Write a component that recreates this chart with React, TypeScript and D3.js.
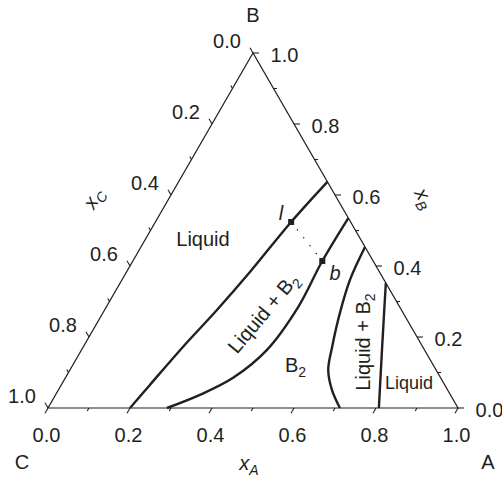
import React from "react";
import * as d3 from "d3";

// Ternary phase diagram A–B–C; compositions are given as [xA, xB] (xC = 1 - xA - xB).
type Comp = [number, number];

const liquidusLeft: Comp[] = [
  [0.2, 0], [0.216, 0.065], [0.243, 0.172], [0.274, 0.276], [0.301, 0.383], [0.331, 0.524], [0.363, 0.637],
];
const solidusLeft: Comp[] = [
  [0.29, 0], [0.352, 0.037], [0.409, 0.085], [0.452, 0.163], [0.468, 0.285], [0.462, 0.414], [0.465, 0.535],
];
const solidusRight: Comp[] = [
  [0.5465, 0.4535], [0.556, 0.361], [0.578, 0.268], [0.607, 0.172], [0.63, 0.107], [0.667, 0.051], [0.712, 0],
];
const liquidusRight: Comp[] = [
  [0.648, 0.352], [0.729, 0.172], [0.807, 0],
];
// Tie line between liquid (l) and B2 (b) compositions
const tieL: Comp = [0.331, 0.524];
const tieB: Comp = [0.462, 0.414];

const tickValues = d3.range(0, 11).map((i) => i / 10);
const labelValues = [0, 0.2, 0.4, 0.6, 0.8, 1.0];

const W = 502;
const H = 477;
const FONT = "'Liberation Sans', Arial, Helvetica, sans-serif";

const side = d3.scaleLinear().domain([0, 1]).range([0, 410]);
const yScale = d3.scaleLinear().domain([0, 1]).range([408, 53]);
const x0 = 48;

const px = (c: Comp): [number, number] => [x0 + side(c[0]) + side(c[1]) / 2, yScale(c[1])];

const curveLine = d3
  .line<Comp>()
  .x((d) => px(d)[0])
  .y((d) => px(d)[1])
  .curve(d3.curveCatmullRom.alpha(0.5));

const fmt = d3.format(".1f");

export default function App() {
  const C = px([0, 0]);
  const A = px([1, 0]);
  const B = px([0, 1]);
  const tri = `M${C[0]},${C[1]}L${A[0]},${A[1]}L${B[0]},${B[1]}Z`;

  const cos60 = 0.5;
  const sin60 = Math.sqrt(3) / 2;
  const tickLen = (v: number) => (Math.round(v * 10) % 2 === 0 ? 6 : 3.5);

  const ticks: JSX.Element[] = [];
  tickValues.forEach((v, i) => {
    const L = tickLen(v);
    // bottom axis: xA
    const pb = px([v, 0]);
    ticks.push(<line key={`b${i}`} x1={pb[0]} y1={pb[1]} x2={pb[0] - L * cos60} y2={pb[1] + L * sin60} />);
    // left axis: xC
    const pl = px([0, 1 - v]);
    ticks.push(<line key={`l${i}`} x1={pl[0]} y1={pl[1]} x2={pl[0] - L * cos60} y2={pl[1] - L * sin60} />);
    // right axis: xB
    const pr = px([1 - v, v]);
    ticks.push(<line key={`r${i}`} x1={pr[0]} y1={pr[1]} x2={pr[0] + L} y2={pr[1]} />);
  });

  const labels: JSX.Element[] = [];
  labelValues.forEach((v, i) => {
    const pb = px([v, 0]);
    labels.push(
      <text key={`bl${i}`} x={pb[0] - 1.5} y={pb[1] + 27} dy="0.35em" textAnchor="middle">{fmt(v)}</text>
    );
    const pl = px([0, 1 - v]);
    labels.push(
      <text key={`ll${i}`} x={pl[0] - 26} y={pl[1] - 12} dy="0.35em" textAnchor="middle">{fmt(v)}</text>
    );
    const pr = px([1 - v, v]);
    labels.push(
      <text key={`rl${i}`} x={pr[0] + 31.5} y={pr[1] + 1.5} dy="0.35em" textAnchor="middle">{fmt(v)}</text>
    );
  });

  const pL = px(tieL);
  const pB = px(tieB);

  return (
    <svg width={W} height={H} style={{ position: "absolute", left: 0, top: 0, background: "#fff" }}>
      <g fontFamily={FONT} fill="#231f20">
        <path d={tri} fill="none" stroke="#231f20" strokeWidth={1.2} />
        <g stroke="#231f20" strokeWidth={1.1}>{ticks}</g>

        <g fill="none" stroke="#231f20" strokeWidth={2.4} strokeLinejoin="round">
          <path d={curveLine(liquidusLeft) || ""} />
          <path d={curveLine(solidusLeft) || ""} />
          <path d={curveLine(solidusRight) || ""} />
          <path d={curveLine(liquidusRight) || ""} />
        </g>

        <line
          x1={pL[0]} y1={pL[1]} x2={pB[0]} y2={pB[1]}
          stroke="#231f20" strokeWidth={1.4} strokeLinecap="round"
          strokeDasharray="0.1 10" strokeDashoffset={-10}
        />
        <rect x={pL[0] - 3} y={pL[1] - 3} width={6} height={6} />
        <rect x={pB[0] - 3} y={pB[1] - 3} width={6} height={6} />

        <g fontSize={20}>{labels}</g>

        <g fontSize={20}>
          <text x={253} y={15} dy="0.35em" textAnchor="middle">B</text>
          <text x={22} y={462} dy="0.35em" textAnchor="middle">C</text>
          <text x={488} y={462} dy="0.35em" textAnchor="middle">A</text>
          <text x={249} y={463} dy="0.35em" textAnchor="middle" fontStyle="italic">
            x<tspan dy={5} fontSize={14}>A</tspan>
          </text>
          <text transform="translate(93,198) rotate(-60)" dy="0.35em" textAnchor="middle" fontStyle="italic">
            x<tspan dy={5} fontSize={14}>C</tspan>
          </text>
          <text transform="translate(425,198) rotate(60)" dy="0.35em" textAnchor="middle" fontStyle="italic">
            x<tspan dy={5} fontSize={14}>B</tspan>
          </text>

          <text x={203} y={246} textAnchor="middle">Liquid</text>
          <text transform="translate(263,313) rotate(-50)" dy="0.35em" textAnchor="middle">
            Liquid + B<tspan dy={5} fontSize={14}>2</tspan>
          </text>
          <text x={285} y={372}>
            B<tspan dy={5} fontSize={14}>2</tspan>
          </text>
          <text x={335} y={280} textAnchor="middle" fontStyle="italic">b</text>
          <text x={281} y={220} textAnchor="middle" fontStyle="italic">l</text>
          <text transform="translate(370,342) rotate(-90)" textAnchor="middle">
            Liquid + B<tspan dy={5} fontSize={14}>2</tspan>
          </text>
          <text x={409} y={389} textAnchor="middle" fontSize={18}>Liquid</text>
        </g>
      </g>
    </svg>
  );
}
